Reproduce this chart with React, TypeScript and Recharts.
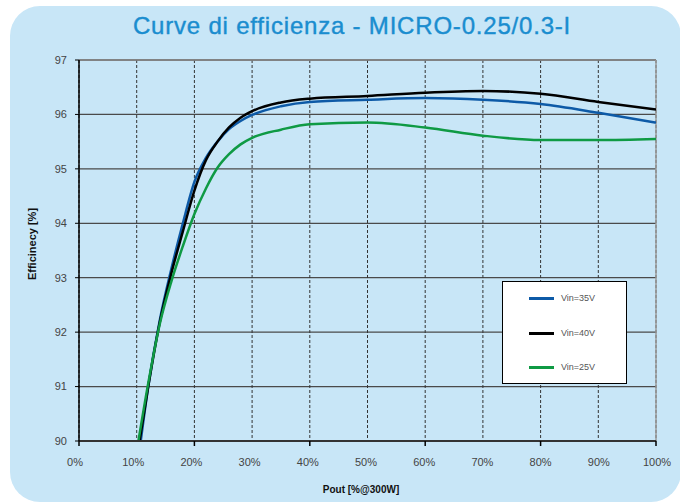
import React from 'react';
import { LineChart, Line, XAxis, YAxis, CartesianGrid, ReferenceLine, Legend } from 'recharts';

const xTicks = [0, 10, 20, 30, 40, 50, 60, 70, 80, 90, 100];
const yTicks = [90, 91, 92, 93, 94, 95, 96, 97];

const pout35 = [10.7, 12, 14, 16, 18, 20, 22, 24, 26, 28, 30, 35, 40, 50, 60, 70, 80, 90, 100];
const eff35 = [90, 91, 92.22, 93.16, 94.0, 94.76, 95.2, 95.5, 95.73, 95.88, 95.99, 96.15, 96.23, 96.27, 96.3, 96.27, 96.19, 96.03, 95.85];

const pout40 = [10.5, 12, 14, 16, 18, 20, 22, 24, 26, 28, 30, 35, 40, 50, 60, 70, 80, 90, 100];
const eff40 = [90, 91, 92.18, 93.08, 93.85, 94.6, 95.16, 95.5, 95.76, 95.94, 96.06, 96.22, 96.29, 96.34, 96.4, 96.43, 96.38, 96.23, 96.09];

const pout25 = [10.3, 12, 14, 16, 18, 20, 22, 24, 26, 28, 30, 35, 40, 50, 60, 70, 80, 90, 100];
const eff25 = [90, 91.06, 92.15, 92.93, 93.58, 94.17, 94.64, 95.02, 95.27, 95.45, 95.57, 95.72, 95.82, 95.85, 95.76, 95.61, 95.53, 95.53, 95.55];

const seriesNames = ['Vin=35V', 'Vin=40V', 'Vin=25V'];
const seriesColors = ['#0d5aa7', '#000000', '#0f9a44'];

const toRows = (xs: number[], ys: number[]) => xs.map((x, i) => ({ x, y: ys[i] }));
const seriesData = [toRows(pout35, eff35), toRows(pout40, eff40), toRows(pout25, eff25)];

const FONT = '"Liberation Sans", Arial, Helvetica, sans-serif';

const XTick = (props: any) => {
  const { x, y, payload, index } = props;
  const axisY = y - 17;
  return (
    <g>
      {index % 2 === 0 && (
        <line x1={x} x2={x} y1={axisY} y2={axisY + 5} stroke="#000" strokeWidth={1.5} />
      )}
      <text
        x={x}
        y={y}
        dx={-4 + index * 0.5}
        dy="0.71em"
        textAnchor="middle"
        fill="#444"
        fontSize={11}
        fontFamily={FONT}
      >
        {`${payload.value}%`}
      </text>
    </g>
  );
};

const LegendBox = () => (
  <div
    style={{
      width: 125,
      height: 103,
      background: '#fff',
      border: '1px solid #000',
      boxSizing: 'border-box',
      position: 'relative',
      fontFamily: FONT,
    }}
  >
    {seriesNames.map((name, i) => (
      <div key={name} style={{ position: 'absolute', left: 0, top: 16 + i * 34.5, height: 2, width: '100%' }}>
        <div style={{ position: 'absolute', left: 26, top: -1, width: 25, height: 3, background: seriesColors[i] }} />
        <div
          style={{
            position: 'absolute',
            left: 58,
            top: -6,
            fontSize: 9,
            lineHeight: '12px',
            color: '#555',
            whiteSpace: 'nowrap',
          }}
        >
          {name}
        </div>
      </div>
    ))}
  </div>
);

export default function App() {
  return (
    <div
      style={{
        position: 'absolute',
        left: 0,
        top: 0,
        width: 680,
        height: 504,
        background: '#fff',
        overflow: 'hidden',
        fontFamily: FONT,
      }}
    >
      <div
        style={{
          position: 'absolute',
          left: 10,
          top: 6,
          width: 671,
          height: 496,
          borderRadius: 30,
          background: '#c8e6f7',
        }}
      />
      <div
        style={{
          position: 'absolute',
          left: 24,
          width: 656,
          top: 14,
          textAlign: 'center',
          fontSize: 24,
          lineHeight: '24px',
          letterSpacing: 0.8,
          color: '#1a8dcf',
          WebkitTextStroke: '0.4px #1a8dcf',
          whiteSpace: 'nowrap',
        }}
      >
        Curve di efficienza - MICRO-0.25/0.3-I
      </div>
      <div
        style={{
          position: 'absolute',
          left: 32,
          top: 244,
          transform: 'translate(-50%, -50%) rotate(-90deg)',
          fontSize: 11,
          fontWeight: 'bold',
          color: '#111',
          whiteSpace: 'nowrap',
        }}
      >
        Efficinecy [%]
      </div>
      <div
        style={{
          position: 'absolute',
          left: 361,
          top: 489,
          transform: 'translate(-50%, -50%)',
          fontSize: 10,
          fontWeight: 'bold',
          color: '#111',
          whiteSpace: 'nowrap',
        }}
      >
        Pout [%@300W]
      </div>
      <div style={{ position: 'absolute', left: 0, top: 0 }}>
        <LineChart width={680} height={504} margin={{ top: 60, right: 24, bottom: 33, left: 0 }}>
          <CartesianGrid horizontal={true} vertical={false} stroke="#4a4a4a" strokeWidth={1.3} />
          <CartesianGrid horizontal={false} vertical={true} stroke="#333" strokeWidth={1} strokeDasharray="3 2" />
          <XAxis
            dataKey="x"
            type="number"
            domain={[0, 100]}
            ticks={xTicks}
            allowDataOverflow
            height={30}
            tickSize={5}
            tickMargin={12}
            tickLine={false}
            tick={<XTick />}
            axisLine={{ stroke: '#333', strokeWidth: 2 }}
            interval={0}
          />
          <YAxis
            type="number"
            domain={[90, 97]}
            ticks={yTicks}
            allowDataOverflow
            width={79}
            tickSize={4}
            tickMargin={8}
            tick={{ fill: '#444', fontSize: 11, fontFamily: FONT }}
            tickLine={{ stroke: '#000', strokeWidth: 1 }}
            axisLine={{ stroke: '#000', strokeWidth: 1.5 }}
            interval={0}
          />
          <ReferenceLine y={97} stroke="#8a8a8a" strokeWidth={1.5} />
          <ReferenceLine x={100} stroke="#9a9a9a" strokeWidth={1.5} />
          {seriesData.map((d, i) => (
            <Line
              key={seriesNames[i]}
              data={d}
              dataKey="y"
              name={seriesNames[i]}
              type="monotone"
              stroke={seriesColors[i]}
              strokeWidth={2.5}
              dot={false}
              activeDot={false}
              isAnimationActive={false}
            />
          ))}
          <Legend
            layout="vertical"
            align="center"
            verticalAlign="middle"
            content={<LegendBox />}
            wrapperStyle={{ left: 502, top: 281, width: 125, height: 103, bottom: 'auto', right: 'auto', margin: 0 }}
          />
        </LineChart>
      </div>
    </div>
  );
}
